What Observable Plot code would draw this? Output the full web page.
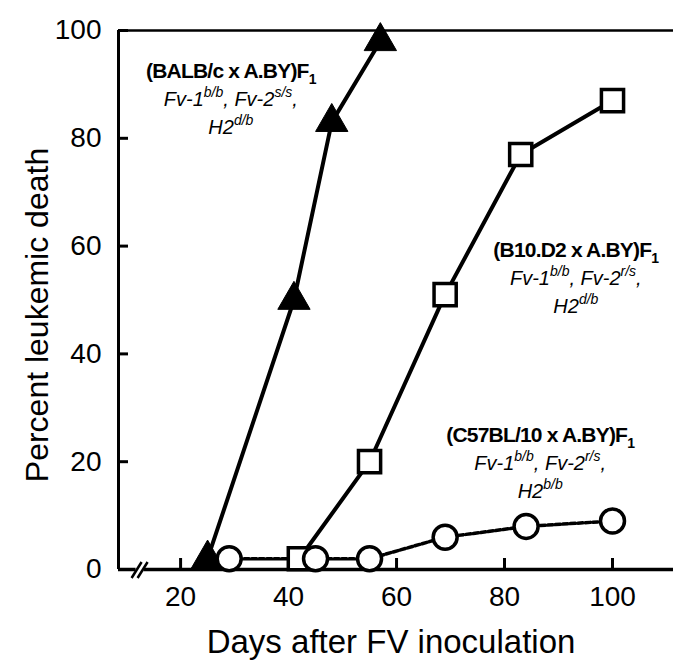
<!DOCTYPE html>
<html><head><meta charset="utf-8">
<script src="https://cdn.jsdelivr.net/npm/d3@7"></script>
<script src="https://cdn.jsdelivr.net/npm/@observablehq/plot@0.6"></script>
<style>body{margin:0;background:#fff} svg{display:block}</style>
</head><body><div id="chart"></div>
<script>
// Data
const triDays = [25, 41, 48, 57];
const triPct  = [2, 50, 83, 98];
const sqDays  = [42, 55, 69, 83, 100];
const sqPct   = [2, 20, 51, 77, 87];
const cirDays = [29, 45, 55, 69, 84, 100];
const cirPct  = [2, 2, 2, 6, 8, 9];
const xTicks = [20, 40, 60, 80, 100];
const yTicks = [0, 20, 40, 60, 80, 100];
const xDomain = [8.5, 111.3];
const yDomain = [0, 100];
const breakAt = 12.5;
const xLabel = "Days after FV inoculation";
const yLabel = "Percent leukemic death";
const strainNames = ["(BALB/c x A.BY)F", "(B10.D2 x A.BY)F", "(C57BL/10 x A.BY)F"];
const fv1 = ["b/b", "b/b", "b/b"];
const fv2 = ["s/s", "r/s", "r/s"];
const h2  = ["d/b", "d/b", "b/b"];
const labelX = [29.4, 93.3, 86.7];
const labelY = [91.1, 57.8, 23.5];

const toRows = (xs, ys) => xs.map((x, i) => ({x, y: ys[i]}));
const tri = toRows(triDays, triPct);
const sq = toRows(sqDays, sqPct);
const cir = toRows(cirDays, cirPct);
const FONT = "'Liberation Sans', Arial, Helvetica, sans-serif";

const chart = Plot.plot({
  width: 673, height: 660,
  marginLeft: 118, marginRight: 0, marginTop: 30, marginBottom: 91,
  x: {domain: xDomain},
  y: {domain: yDomain},
  style: {fontFamily: FONT, background: "white", color: "black", overflow: "visible"},
  marks: [
    Plot.axisX({ticks: xTicks, tickSize: 0, tickPadding: 17, fontSize: 28, label: null}),
    Plot.axisX({ticks: xTicks, tickSize: -11, strokeWidth: 3, fill: "none", label: null}),
    Plot.axisY({ticks: yTicks, tickSize: 0, tickPadding: 17, fontSize: 28, label: null}),
    Plot.axisY({ticks: yTicks, tickSize: -10, strokeWidth: 3, fill: "none", label: null}),
    Plot.text([xLabel], {frameAnchor: "bottom", textAnchor: "middle", lineAnchor: "middle", dy: 73, dx: -5, fontSize: 33, text: d => d}),
    Plot.text([yLabel], {frameAnchor: "left", textAnchor: "middle", lineAnchor: "middle", rotate: -90, dx: -81, dy: 15, fontSize: 32, text: d => d}),
    Plot.ruleY([yDomain[0]], {strokeWidth: 3.5}),
    Plot.ruleY([yDomain[1]], {strokeWidth: 2.5}),
    Plot.ruleX([xDomain[0]], {strokeWidth: 3}),
    Plot.line(tri, {x: "x", y: "y", strokeWidth: 4}),
    Plot.line(sq, {x: "x", y: "y", strokeWidth: 4}),
    Plot.line(cir, {x: "x", y: "y", strokeWidth: 3.5, strokeDasharray: "5,2.5"}),
    Plot.dot(tri, {x: "x", y: "y", symbol: "triangle", r: 12, fill: "black", stroke: "black", strokeWidth: 1}),
    Plot.dot(sq, {x: "x", y: "y", symbol: "square", r: 12.5, fill: "white", stroke: "black", strokeWidth: 3.5}),
    Plot.dot(cir, {x: "x", y: "y", symbol: "circle", r: 12, fill: "white", stroke: "black", strokeWidth: 3.5})
  ]
});
document.getElementById("chart").appendChild(chart);

const sx = chart.scale("x"), sy = chart.scale("y");
const svg = d3.select(chart);

// axis break on the x axis
const bx = sx.apply(breakAt), b0 = sy.apply(yDomain[0]);
svg.append("rect").attr("x", bx - 4).attr("y", b0 - 4).attr("width", 8).attr("height", 8).attr("fill", "white");
[-3, 3].forEach(o => svg.append("line")
  .attr("x1", bx + o - 5).attr("y1", b0 + 9).attr("x2", bx + o + 5).attr("y2", b0 - 7)
  .attr("stroke", "black").attr("stroke-width", 2.5));

// strain annotations
const g = svg.append("g").attr("font-family", FONT).attr("text-anchor", "middle").attr("fill", "black");
strainNames.forEach((name, i) => {
  const cx = sx.apply(labelX[i]), by = sy.apply(labelY[i]);
  const t1 = g.append("text").attr("x", cx).attr("y", by).attr("font-size", 21)
    .attr("font-weight", "bold").attr("letter-spacing", -0.8);
  t1.append("tspan").text(name);
  t1.append("tspan").attr("font-size", 14).attr("dy", 6).text("1");
  const t2 = g.append("text").attr("x", cx).attr("y", by + 28).attr("font-size", 20).attr("font-style", "italic");
  t2.append("tspan").text("Fv-1");
  t2.append("tspan").attr("font-size", 14).attr("dy", -9).text(fv1[i]);
  t2.append("tspan").attr("dy", 9).text(", Fv-2");
  t2.append("tspan").attr("font-size", 14).attr("dy", -9).text(fv2[i]);
  t2.append("tspan").attr("dy", 9).text(",");
  const t3 = g.append("text").attr("x", cx).attr("y", by + 56).attr("font-size", 20).attr("font-style", "italic");
  t3.append("tspan").text("H2");
  t3.append("tspan").attr("font-size", 14).attr("dy", -9).text(h2[i]);
});
</script>
</body></html>
